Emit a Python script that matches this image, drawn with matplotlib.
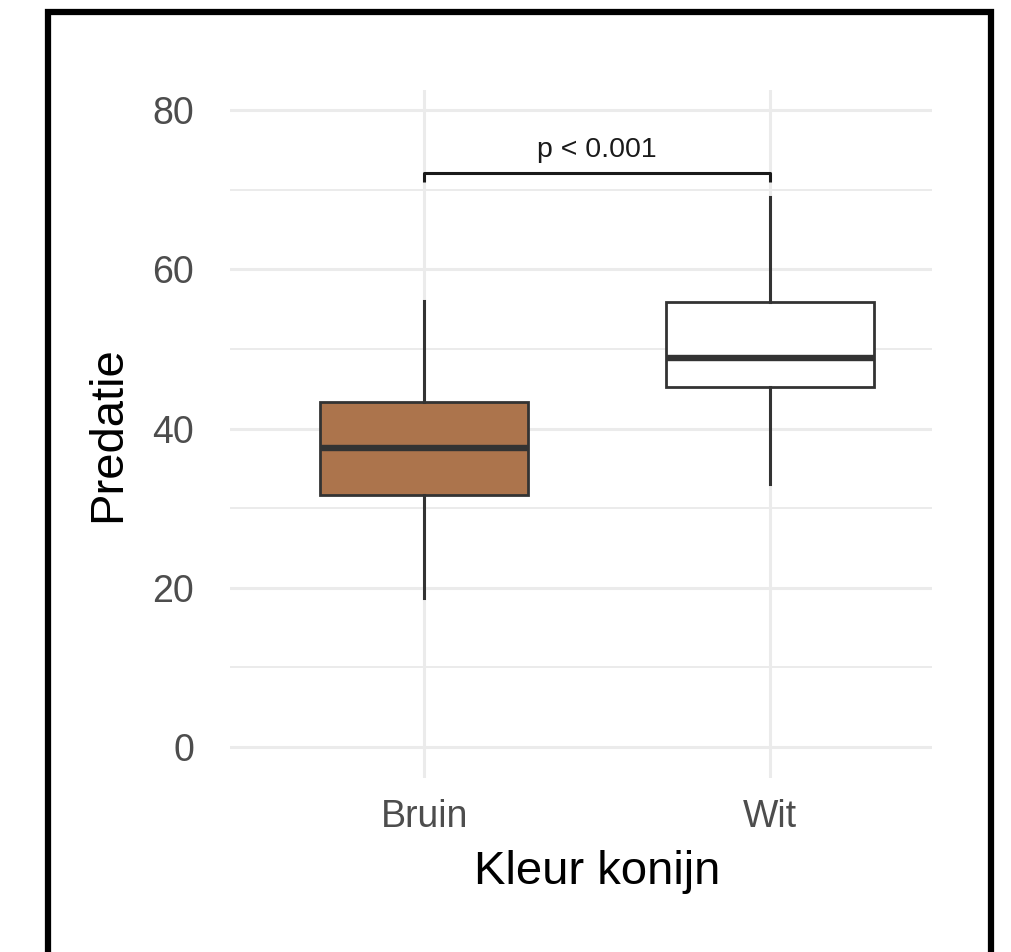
import matplotlib
matplotlib.use("Agg")
import matplotlib.pyplot as plt
from matplotlib.patches import Rectangle
from matplotlib.ticker import MultipleLocator

# ---- data ----
categories = ["Bruin", "Wit"]
whisker_low = [18.7, 33.0]
q1 = [31.6, 45.2]
median = [37.6, 48.8]
q3 = [43.3, 55.9]
whisker_high = [56.0, 69.1]
box_colors = ["#AC744C", "#FFFFFF"]
p_label = "p < 0.001"
bracket_y = 72.1
bracket_tip = 71.0
y_ticks = [0, 20, 40, 60, 80]

plt.rcParams['font.family'] = ['Liberation Sans', 'DejaVu Sans']

fig = plt.figure(figsize=(10.11, 9.52), dpi=100)
W, H = 1011, 952
# panel in pixels: x 230..932, y 90..778
ax = fig.add_axes([230 / W, (H - 778) / H, (932 - 230) / W, (778 - 90) / H])

stats = []
for i, c in enumerate(categories):
    stats.append(dict(label=c, whislo=whisker_low[i], q1=q1[i], med=median[i],
                      q3=q3[i], whishi=whisker_high[i], fliers=[]))

positions = list(range(1, len(categories) + 1))
bp = ax.bxp(stats, positions=positions, widths=0.6, patch_artist=True,
            showcaps=False, showfliers=False,
            boxprops=dict(edgecolor="#333333", linewidth=2.0),
            medianprops=dict(color="#333333", linewidth=4.6, solid_capstyle="butt"),
            whiskerprops=dict(color="#333333", linewidth=2.2), zorder=3)
for patch, col in zip(bp["boxes"], box_colors):
    patch.set_facecolor(col)

# significance bracket
ax.plot([positions[0], positions[0], positions[1], positions[1]],
        [bracket_tip, bracket_y, bracket_y, bracket_tip],
        color="#1A1A1A", linewidth=2.2, solid_capstyle="butt", zorder=4)
ax.text((positions[0] + positions[1]) / 2, 75.0, p_label, ha="center", va="center",
        fontsize=20.5, color="#1A1A1A")

ax.set_xlim(0.439, 2.468)
ax.set_ylim(-3.89, 82.51)
ax.set_xticks(positions)
ax.set_xticklabels(categories)
ax.set_yticks(y_ticks)
ax.yaxis.set_minor_locator(MultipleLocator(10))

ax.grid(True, which="major", color="#EBEBEB", linewidth=2.2, zorder=0)
ax.grid(True, which="minor", axis="y", color="#EBEBEB", linewidth=1.4, zorder=0)
ax.set_axisbelow(True)
for s in ax.spines.values():
    s.set_visible(False)
ax.tick_params(axis="both", which="both", length=0, labelsize=27, labelcolor="#4D4D4D")
ax.tick_params(axis="y", pad=26)
ax.tick_params(axis="x", pad=15)

ax.set_xlabel("Kleur konijn", fontsize=34, color="black")
ax.set_ylabel("Predatie", fontsize=34, color="black")
ax.xaxis.set_label_coords((597 - 230) / 702, (778 - 850) / 688)
ax.yaxis.set_label_coords((130 - 230) / 702, 0.5)

# outer frame (bottom edge cut off by the image edge)
fig.patches.append(Rectangle((48 / W, -0.05), (990.5 - 48) / W, 1.05 - 12 / H,
                             transform=fig.transFigure, fill=False,
                             edgecolor="black", linewidth=4.5, zorder=10))

fig.savefig("out.png", dpi=100)
